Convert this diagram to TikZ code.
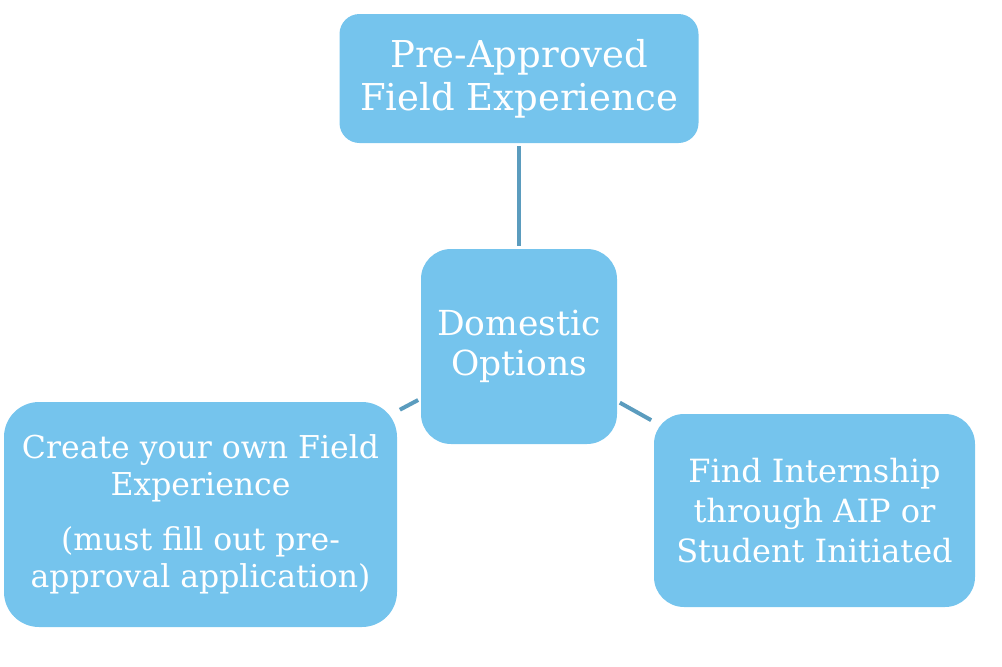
\documentclass[tikz,border=0pt]{standalone}
\usepackage{fontspec}
\setmainfont{DejaVu Serif}
\usepackage{xcolor}

\definecolor{boxblue}{RGB}{117,196,237}
\definecolor{linkblue}{RGB}{91,156,190}

\begin{document}
\begin{tikzpicture}[x=1pt, y=-1pt,
  optbox/.style={fill=boxblue, draw=none, rounded corners=#1, text=white, align=center, inner sep=0pt},
  link/.style={draw=linkblue, line width=4pt, shorten <=3pt, shorten >=3pt}]
  \useasboundingbox (0,0) rectangle (1002,667);

  % Pre-approved (top)
  \node[optbox=20pt, minimum width=359pt, minimum height=129pt,
    font=\fontsize{37}{43}\selectfont] (pre) at (519,78.5)
    {Pre-Approved\\Field Experience};

  % Domestic options (centre)
  \node[optbox=30pt, minimum width=196pt, minimum height=195pt,
    font=\fontsize{34.5}{40}\selectfont] (dom) at (519,346.5)
    {Domestic\\Options};

  % Create your own (left)
  \node[optbox=35pt, minimum width=393pt, minimum height=225pt,
    font=\fontsize{31.5}{37}\selectfont] (own) at (200.5,514.5)
    {Create your own Field\\Experience\\[18pt]
     (must fill out pre-\\approval application)};

  % Find internship (right)
  \node[optbox=30pt, minimum width=321pt, minimum height=193pt,
    font=\fontsize{32}{40}\selectfont] (aip) at (814.5,510.5)
    {Find Internship\\through AIP or\\Student Initiated};

  % Links
  \draw[link] (dom) -- (pre);
  \draw[link] (dom) -- (own);
  \draw[link] (dom) -- (aip);

\end{tikzpicture}
\end{document}
